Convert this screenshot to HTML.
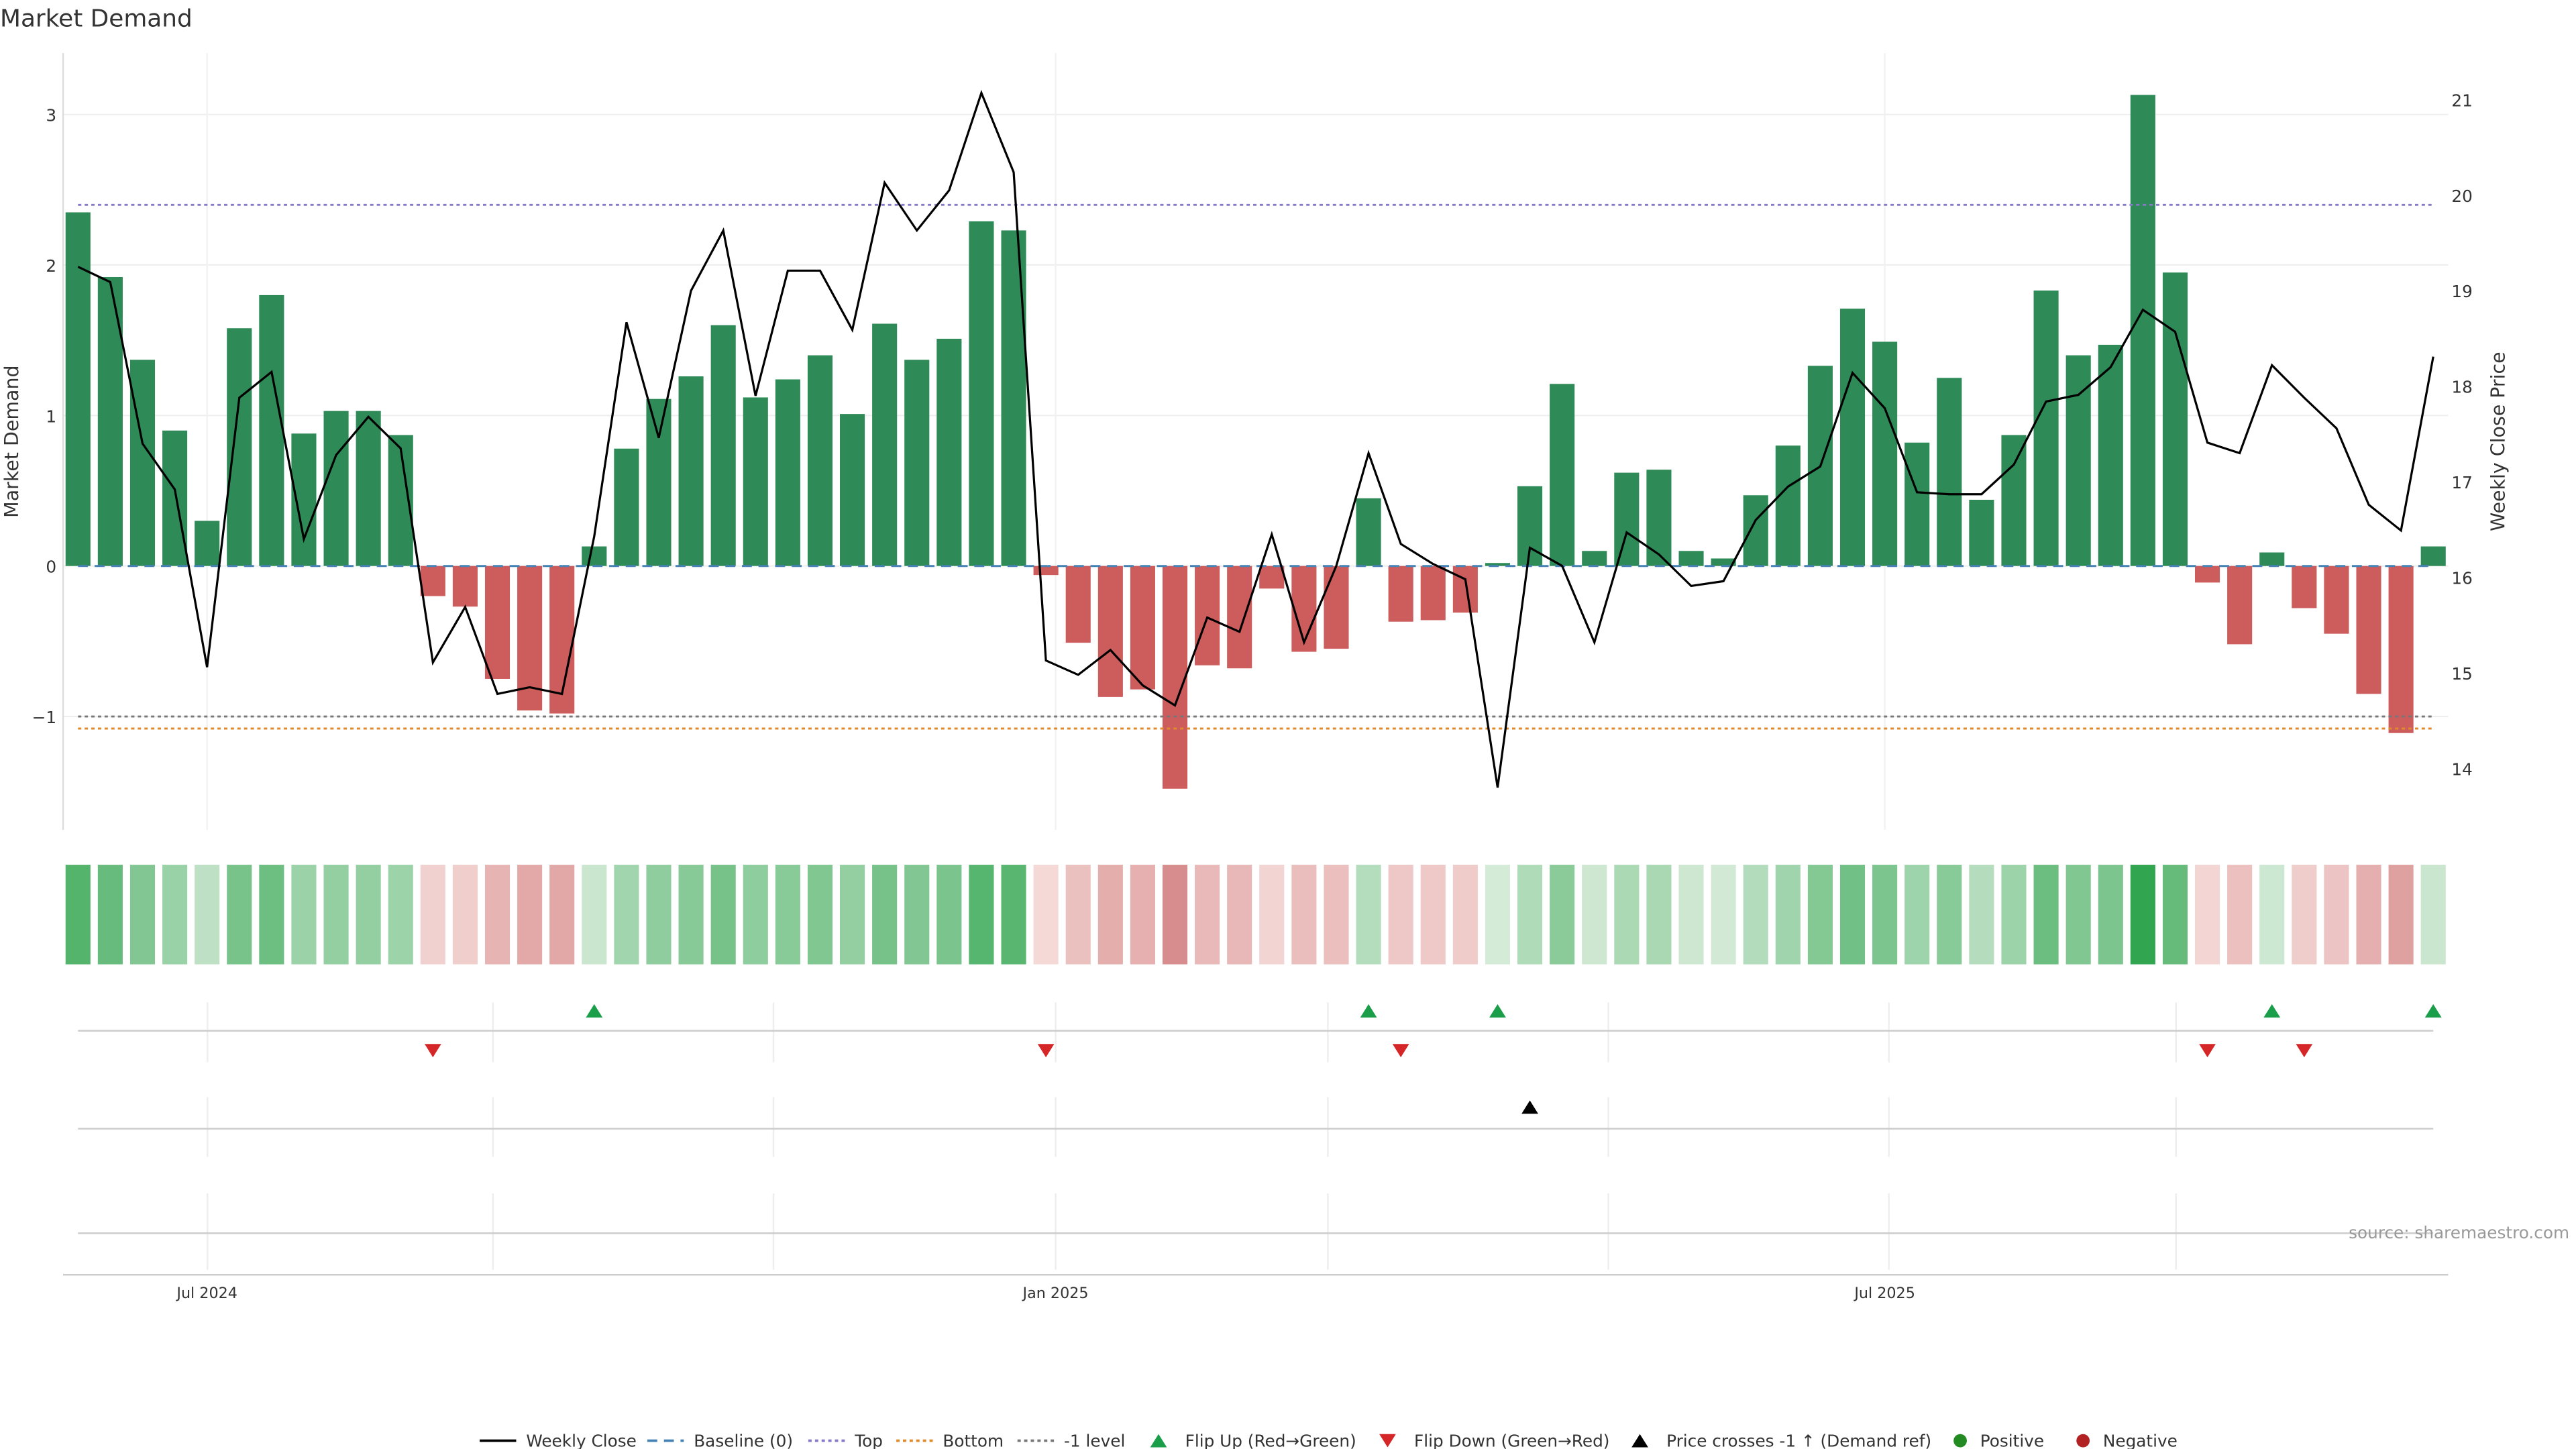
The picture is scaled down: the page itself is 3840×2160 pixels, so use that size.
<!DOCTYPE html>
<html><head><meta charset="utf-8"><style>
html,body{margin:0;padding:0;background:#fff;}
svg{display:block;font-family:"DejaVu Sans","Liberation Sans",sans-serif;}
</style></head><body>
<svg id="chart" width="3840" height="2160" viewBox="0 0 1552 873" xmlns="http://www.w3.org/2000/svg">
<text x="0" y="16" font-size="14.5" fill="#333">Market Demand</text>
<g id="grid"></g>
<g id="bars"></g>
<g id="refs"></g>
<g id="price"></g>
<g id="axes"></g>
<g id="heat"></g>
<g id="markers"></g>
<text x="1548" y="746" font-size="10" fill="#999" text-anchor="end">source: sharemaestro.com</text>
<g id="legend" font-size="10" fill="#333"></g>
</svg>
<script>
const demand=[2.35,1.92,1.37,0.9,0.3,1.58,1.8,0.88,1.03,1.03,0.87,-0.2,-0.27,-0.75,-0.96,-0.98,0.13,0.78,1.11,1.26,1.6,1.12,1.24,1.4,1.01,1.61,1.37,1.51,2.29,2.23,-0.06,-0.51,-0.87,-0.82,-1.48,-0.66,-0.68,-0.15,-0.57,-0.55,0.45,-0.37,-0.36,-0.31,0.02,0.53,1.21,0.1,0.62,0.64,0.1,0.05,0.47,0.8,1.33,1.71,1.49,0.82,1.25,0.44,0.87,1.83,1.4,1.47,3.13,1.95,-0.11,-0.52,0.09,-0.28,-0.45,-0.85,-1.11,0.13];
const price=[19.25,19.09,17.4,16.92,15.06,17.88,18.15,16.4,17.28,17.68,17.35,15.11,15.69,14.78,14.85,14.78,16.43,18.67,17.46,19.0,19.63,17.9,19.21,19.21,18.59,20.13,19.63,20.05,21.07,20.24,15.13,14.98,15.24,14.87,14.66,15.58,15.43,16.45,15.32,16.12,17.3,16.35,16.14,15.98,13.8,16.31,16.12,15.32,16.47,16.24,15.91,15.96,16.6,16.95,17.16,18.14,17.77,16.89,16.87,16.87,17.18,17.84,17.91,18.2,18.8,18.57,17.41,17.3,18.22,17.88,17.56,16.76,16.49,18.31];
const flipUp=[16,40,44,68,73];
const flipDown=[11,30,41,66,69];
const crossUp=[45];
const leftTicks=[-1,0,1,2,3];
const rightTicks=[14,15,16,17,18,19,20,21];
const dateTicks=["Jul 2024","Jan 2025","Jul 2025"];
const dateTickIdx=[4.0,30.3,56.0];
const levels={top:2.4,bottom:-1.08,minus1:-1};

const NS="http://www.w3.org/2000/svg";
function el(tag,attrs,parent,txt){const e=document.createElementNS(NS,tag);for(const k in attrs)e.setAttribute(k,attrs[k]);if(txt!==undefined)e.textContent=txt;document.getElementById(parent).appendChild(e);return e;}
const n=demand.length;
const xi=i=>47+i*(1466-47)/(n-1);
const yL=v=>341-v*90.67;
const yR=p=>60+(21-p)*57.57;
const bw=15;

// grid
leftTicks.forEach(t=>{
 const g=el('line',{x1:38,x2:1475,y1:yL(t),y2:yL(t),stroke:'#eee','stroke-width':0.8},'grid');
 
 const tx=el('text',{x:34,y:yL(t)+4,'font-size':10,'text-anchor':'end',fill:'#333'},'axes',t<0?'\u2212'+Math.abs(t):String(t));
 
});
rightTicks.forEach(t=>{
 const tx=el('text',{x:1477,y:yR(t)+4,'font-size':10,fill:'#333'},'axes',String(t));
 
});
let a=el('line',{x1:38,x2:38,y1:32,y2:500,stroke:'#ddd'},'axes');
a=el('text',{x:11,y:266,'font-size':11.5,fill:'#333','text-anchor':'middle',transform:'rotate(-90 11 266)'},'axes','Market Demand');
a=el('text',{x:1509,y:266,'font-size':11.5,fill:'#333','text-anchor':'middle',transform:'rotate(-90 1509 266)'},'axes','Weekly Close Price');

// bars
demand.forEach((v,i)=>{
 const y=Math.min(yL(v),yL(0)),h=Math.abs(yL(v)-yL(0));
 const r=el('rect',{x:xi(i)-bw/2,y:y,width:bw,height:h,fill:v>=0?'#2e8b57':'#cd5c5c'},'bars');
 
});
// ref lines
function ref(v,color,dash,name){const l=el('line',{x1:47,x2:1466,y1:yL(v),y2:yL(v),stroke:color,'stroke-width':1.2,'stroke-dasharray':dash},'refs');}
ref(0,'#4682b4','6 4','baseline-line');
ref(levels.top,'#8878c8','2 2','top-line');
ref(levels.minus1,'#777','2 2','minus1-level-line');
ref(levels.bottom,'#e08a2c','2 2','bottom-line');
// price
const pl=el('polyline',{points:price.map((p,i)=>xi(i)+','+yR(p)).join(' '),fill:'none',stroke:'#000','stroke-width':1.3},'price');


// heat strip
const maxV=3.13;
demand.forEach((v,i)=>{
 const t=Math.min(1,Math.abs(v)/maxV);
 let c;
 if(v>=0){const l0=[215,236,218],l1=[50,165,80];c=l0.map((q,k)=>Math.round(q+(l1[k]-q)*Math.pow(t,0.8)));}
 else{const l0=[245,220,218],l1=[215,140,140];c=l0.map((q,k)=>Math.round(q+(l1[k]-q)*Math.min(1,Math.abs(v)/1.5)));}
 const r=el('rect',{x:xi(i)-bw/2,y:521,width:bw,height:60,fill:'rgb('+c.join(',')+')'},'heat');
 
});

// marker panels
[[604,640],[661,697],[720,760]].forEach(()=>{});
const vg=[125,297,466,636,800,969,1138,1311];
[[604,640],[661,697],[719,765]].forEach(r=>vg.forEach(x=>{const l=el('line',{x1:x,x2:x,y1:r[0],y2:r[1],stroke:'#eee'},'markers');}));
[621,680,743].forEach(y=>{const l=el('line',{x1:47,x2:1466,y1:y,y2:y,stroke:'#ccc'},'markers');});
function tri(x,y,up,col,name){const d=up?`M${x-5},${y+4}L${x+5},${y+4}L${x},${y-4}Z`:`M${x-5},${y-4}L${x+5},${y-4}L${x},${y+4}Z`;const p=el('path',{d:d,fill:col},'markers');}
flipUp.forEach(i=>tri(xi(i),609,true,'#1a9e4a','flip-up-marker'));
flipDown.forEach(i=>tri(xi(i),633,false,'#d62728','flip-down-marker'));
crossUp.forEach(i=>tri(xi(i),667,true,'#000','price-cross-marker'));

// x axis
a=el('line',{x1:38,x2:1475,y1:768,y2:768,stroke:'#ccc'},'axes');
dateTicks.forEach((t,k)=>{const x=xi(dateTickIdx[k]);
 const l=el('line',{x1:x,x2:x,y1:32,y2:500,stroke:'#f2f2f2'},'grid');
 const tx=el('text',{x:x,y:782,'font-size':9,'text-anchor':'middle',fill:'#333'},'axes',t);});

// legend
const L=[['line','#000','','Weekly Close',289],['line','#4682b4','6 4','Baseline (0)',390],['line','#8878c8','2 2','Top',487],['line','#e08a2c','2 2','Bottom',540],['line','#777','2 2','-1 level',613],
['up','#1a9e4a','','Flip Up (Red\u2192Green)',693],['down','#d62728','','Flip Down (Green\u2192Red)',831],['up','#000','','Price crosses -1 \u2191 (Demand ref)',983],['dot','#228b22','','Positive',1177],['dot','#b22222','','Negative',1251]];
L.forEach(e=>{const x=e[4],y=868;
 if(e[0]==='line'){const l=el('line',{x1:x,x2:x+22,y1:y,y2:y,stroke:e[1],'stroke-width':1.5,'stroke-dasharray':e[2]},'legend');}
 else if(e[0]==='dot'){const c=el('circle',{cx:x+4,cy:y,r:4,fill:e[1]},'legend');}
 else{const up=e[0]==='up',cx=x+5;const p=el('path',{d:up?`M${cx-5},${y+4}L${cx+5},${y+4}L${cx},${y-4}Z`:`M${cx-5},${y-4}L${cx+5},${y-4}L${cx},${y+4}Z`,fill:e[1]},'legend');}
 const off=e[0]==='line'?28:(e[0]==='dot'?16:21);
 const t=el('text',{x:x+off,y:y+3.5,'font-size':10},'legend',e[3]);
});
</script>
</body></html>
